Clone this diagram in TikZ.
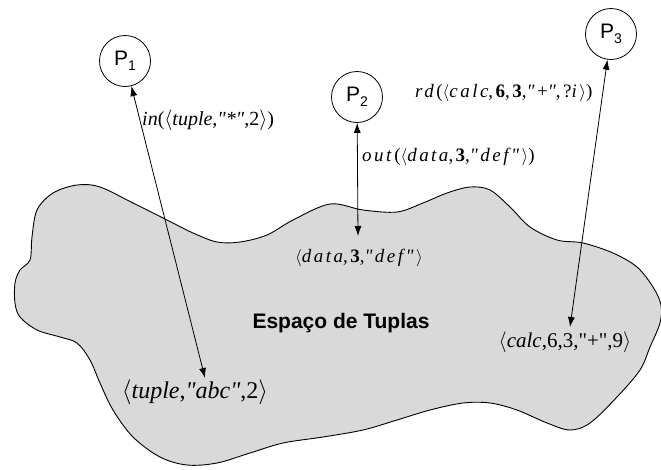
\documentclass[tikz,border=0pt]{standalone}
\usepackage{fontspec}
\usetikzlibrary{arrows.meta}
\newfontfamily\tms{Liberation Serif}
\newfontfamily\tmsw[LetterSpace=13]{Liberation Serif}
\newfontfamily\ars{Liberation Sans}
\definecolor{blobfill}{RGB}{217,217,217}
\newcommand{\procsub}[1]{P\raisebox{-5pt}{\fontsize{14}{14}\selectfont #1}}
\begin{document}
\begin{tikzpicture}[x=1pt,y=-1pt,
  proc/.style={circle,draw,line width=0.8pt,minimum size=51pt,inner sep=0pt,font=\ars\fontsize{21}{24}\selectfont},
  conn/.style={{Latex[length=10pt,width=7pt]}-{Latex[length=10pt,width=7pt]},line width=0.8pt},
  lbl/.style={inner sep=0pt,anchor=west},
  tup/.style={inner sep=0pt}]
\useasboundingbox (0,0) rectangle (661,469);
\draw[fill=blobfill,line width=0.9pt] plot[smooth cycle,tension=0.55] coordinates {
(32,237) (37,210) (53,193) (77,185) (100,187) (133,203) (167,220) (193,233) (217,242) (240,242) (267,235) (293,220) (330,204) (363,210) (397,212) (423,203) (447,193) (470,187) (490,190) (510,207) (530,227) (557,240) (583,243) (613,253) (637,267) (653,287) (661,305) (660,323) (650,347) (640,370) (617,397) (590,423) (570,430) (547,423) (517,410) (490,403) (463,403) (430,410) (397,420) (363,430) (323,437) (283,443) (250,453) (217,463) (187,465) (160,457) (133,437) (113,410) (100,383) (90,360) (77,343) (60,337) (37,330) (20,317) (15,303) (15,283) (20,270) (30,260)};
\node[proc] (p1) at (125,61) {\procsub{1}};
\node[proc] (p2) at (357,97) {\procsub{2}};
\node[proc] (p3) at (611,34) {\procsub{3}};
\coordinate (e1) at (205,378);
\coordinate (e2) at (358,236);
\coordinate (e3) at (570,327);
\draw[conn] (p1) -- (e1);
\draw[conn] (p2) -- (e2);
\draw[conn] (p3) -- (e3);
\node[lbl,font=\tms\fontsize{20}{23}\selectfont] (lin) at (142,120) {\textit{in}($\langle$\textit{tuple},\textit{"*"},2$\rangle$)};
\node[lbl,font=\tmsw\fontsize{19}{22}\selectfont] (lout) at (362,157) {\textit{out}($\langle$\textit{data},\textbf{3},\textit{"def"}$\rangle$)};
\node[lbl,font=\tmsw\fontsize{19}{22}\selectfont] (lrd) at (415,93) {\textit{rd}($\langle$\textit{calc},\textbf{6},\textbf{3},\textit{"}+\textit{"},?\textit{i}$\rangle$)};
\node[tup,font=\tmsw\fontsize{19}{22}\selectfont] (tdata) at (359,258) {$\langle$\textit{data},\textbf{3},\textit{"def"}$\rangle$};
\node[tup,font=\tms\fontsize{24}{27}\selectfont] (ttuple) at (195,392) {$\langle$\textit{tuple},\textit{"abc"},2$\rangle$};
\node[tup,font=\tms\fontsize{21}{24}\selectfont] (tcalc) at (565,342) {$\langle$\textit{calc},6,3,"+",9$\rangle$};
\node[tup,font=\ars\bfseries\fontsize{21}{24}\selectfont] (space) at (341,323) {Espaço de Tuplas};
\end{tikzpicture}
\end{document}
